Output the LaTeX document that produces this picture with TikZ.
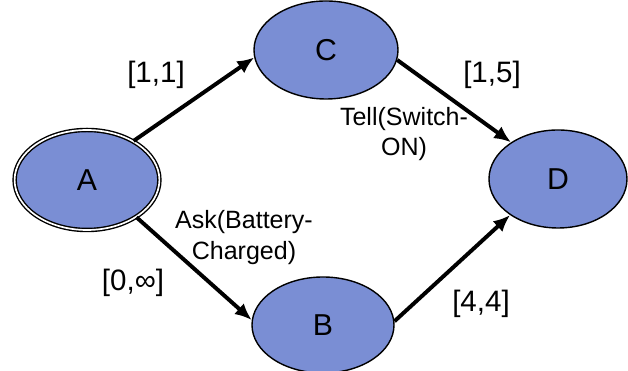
\documentclass[tikz,border=0pt]{standalone}
\usepackage{fontspec}
\setmainfont{Liberation Sans}
\usepackage{xcolor}
\usetikzlibrary{shapes.geometric,arrows.meta}
\definecolor{StateBlue}{HTML}{7A8ED4}

\begin{document}
\begin{tikzpicture}[x=1cm,y=1cm,
  state/.style={ellipse,draw=black,line width=1pt,fill=StateBlue,inner sep=0pt,
    font=\fontsize{21.5}{26}\selectfont},
  edge/.style={line width=2.8pt,-{Latex[length=4.2mm,width=3.6mm]}},
  bound/.style={font=\fontsize{21}{25}\selectfont},
  act/.style={align=center,font=\fontsize{17.8}{22}\selectfont}]
\path[use as bounding box] (0,0) rectangle (15.70,9.275);
% states
\node[state,double=white,double distance=1.2pt,minimum width=3.62cm,minimum height=2.50cm] (A) at (2.175,4.775) {A};
\node[state,minimum width=3.60cm,minimum height=2.45cm] (C) at (8.15,8.025) {C};
\node[state,minimum width=3.55cm,minimum height=2.40cm] (B) at (8.075,1.15) {B};
\node[state,minimum width=3.45cm,minimum height=2.45cm] (D) at (13.95,4.80) {D};
% transitions
\draw[edge] (A.40) -- (C.186);
\draw[edge] (A.-37) -- (B.176);
\draw[edge] (C.-8) -- (D.142);
\draw[edge] (B.3) -- (D.217);
% labels
\node[bound] (lAC) at (3.90,7.40) {[1,1]};
\node[bound] (lCD) at (12.30,7.40) {[1,5]};
\node[bound] (lAB) at (3.325,2.20) {[0,∞]};
\node[bound] (lBD) at (12.025,1.675) {[4,4]};
\node[act] (tell) at (10.10,5.925) {Tell(Switch-\\ON)};
\node[act] (ask) at (6.10,3.325) {Ask(Battery-\\Charged)};
\end{tikzpicture}
\end{document}
